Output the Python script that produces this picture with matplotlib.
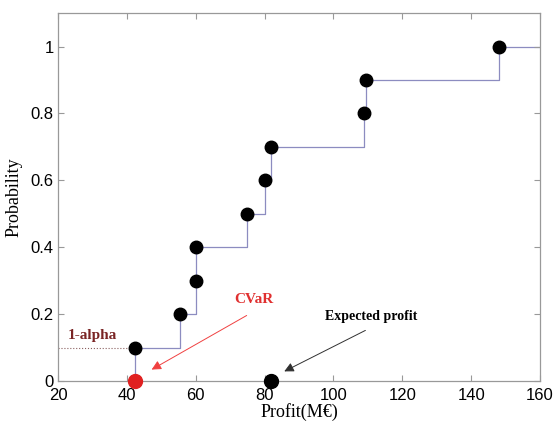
import matplotlib
matplotlib.use('Agg')
import matplotlib.pyplot as plt

# scenario profits (M€) and cumulative probabilities
profit = [42.5, 55.5, 60.0, 60.0, 75.0, 80.0, 82.0, 109.0, 109.5, 148.0]
prob = [0.1, 0.2, 0.3, 0.4, 0.5, 0.6, 0.7, 0.8, 0.9, 1.0]

cvar = 42.5
expected = 82.0
alpha_level = 0.1

fig = plt.figure(figsize=(5.55, 4.23), dpi=100)
ax = fig.add_axes([0.1045, 0.0993, 0.8685, 0.8697])

# step curve of the cumulative distribution
sx = [cvar] + profit + [160]
sy = [0] + prob + [prob[-1]]
ax.step(sx, sy, where='post', color='#8c8cc0', lw=0.9, zorder=1)

ax.plot(profit, prob, 'o', color='black', ms=9, zorder=3, clip_on=False)
ax.plot([cvar], [0], 'o', color='#e02020', ms=10, zorder=3, clip_on=False)
ax.plot([expected], [0], 'o', color='black', ms=10, zorder=3, clip_on=False)

ax.plot([20, cvar], [alpha_level, alpha_level], ':', color='#8a6060', lw=0.8)

serif = {'family': 'Liberation Serif', 'weight': 'bold'}
ax.text(22.8, 0.135, '1-alpha', color='#7a2525', fontsize=11, va='center', fontdict=serif)
ax.text(77, 0.245, 'CVaR', color='#e03030', fontsize=11, ha='center', va='center', fontdict=serif)
ax.text(111, 0.193, 'Expected profit', color='black', fontsize=10, ha='center', va='center', fontdict=serif)

ax.annotate('', xy=(46.5, 0.03), xytext=(75.5, 0.2),
            arrowprops=dict(arrowstyle='-|>', color='#f04040', lw=0.7, mutation_scale=14))
ax.annotate('', xy=(85, 0.025), xytext=(110, 0.155),
            arrowprops=dict(arrowstyle='-|>', color='#303030', lw=0.7, mutation_scale=14))

ax.set_xlim(20, 160)
ax.set_ylim(0, 1.1)
ax.set_xticks([20, 40, 60, 80, 100, 120, 140, 160])
ax.set_yticks([0, 0.2, 0.4, 0.6, 0.8, 1])
ax.set_yticklabels(['0', '0.2', '0.4', '0.6', '0.8', '1'])
ax.tick_params(direction='in', top=True, right=True, length=4, color='#999999',
               labelsize=12, pad=3)
ax.tick_params(axis='x', pad=5)
for lab in ax.get_xticklabels() + ax.get_yticklabels():
    lab.set_family('Liberation Sans')
for s in ax.spines.values():
    s.set_color('#999999')
    s.set_linewidth(0.9)

ax.set_xlabel('Profit(M€)', fontsize=13, family='Liberation Serif', labelpad=0)
ax.set_ylabel('Probability', fontsize=13, family='Liberation Serif', labelpad=6)

fig.savefig('out.png', dpi=100)
